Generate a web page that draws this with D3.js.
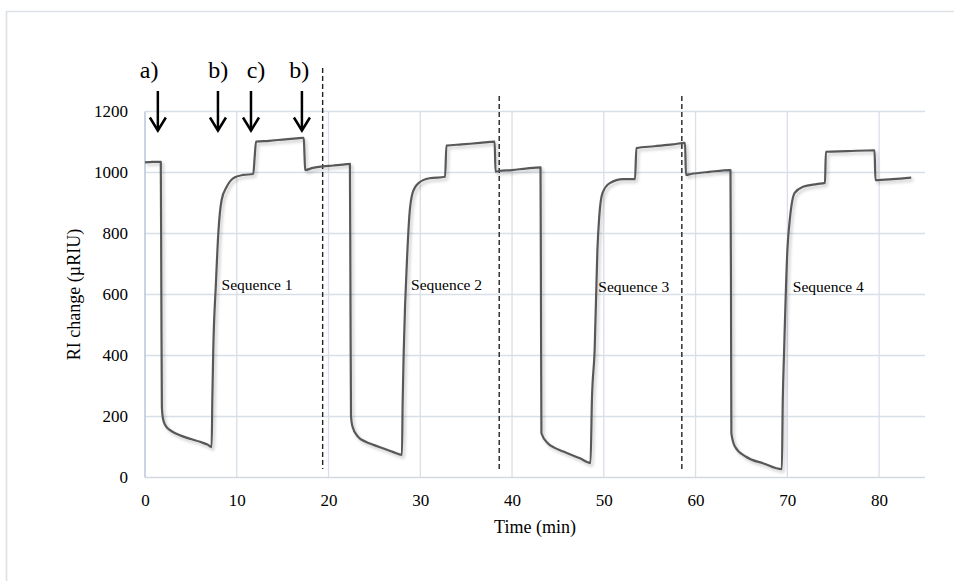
<!DOCTYPE html>
<html>
<head>
<meta charset="utf-8">
<script src="https://cdn.jsdelivr.net/npm/d3@7"></script>
<style>
  html, body { margin: 0; padding: 0; background: #fff; }
  svg { display: block; }
  text { font-family: "Liberation Serif", "Times New Roman", serif; fill: #000; }
</style>
</head>
<body>
<svg id="chart" width="954" height="581"></svg>
<script>
// RI response over four measurement sequences: [time (min), RI change (µRIU)]
const seq1 = [[0,1033],[0.8,1035],[1.72,1035],[1.78,620],[1.84,230],[1.95,195],[2.2,172],[2.7,156],[3.3,145],[4.2,134],[5.0,126],[6.0,117],[6.8,108],[7.26,100],[7.34,260],[7.44,418],[7.73,637],[7.99,801],[8.35,910],[8.9,953],[9.6,981],[10.7,992],[11.8,995],[11.95,1050],[12.1,1101],[13.5,1104],[15.0,1108],[16.5,1112],[17.3,1114],[17.38,1060],[17.45,1008],[18.3,1015],[19.36,1020]];
const seq2 = [[20.5,1023],[21.5,1026],[22.33,1028],[22.39,600],[22.45,200],[22.6,168],[23.2,134],[24.0,118],[24.9,107],[26.0,95],[27.0,84],[28.0,74],[28.08,250],[28.2,418],[28.6,746],[28.8,855],[29.15,932],[29.8,965],[31.0,981],[32.7,986],[32.85,1088],[34.5,1092],[36.5,1097],[38.1,1101],[38.2,1003],[38.6,1005]];
const seq3 = [[40,1008],[41.5,1013],[43.1,1017],[43.15,600],[43.2,145],[43.9,112],[44.6,98],[45.6,85],[47.4,63],[48.55,48],[48.7,250],[49.0,418],[49.3,746],[49.5,855],[49.85,932],[50.65,965],[52.1,978],[53.4,978],[53.55,1080],[55.5,1086],[57.5,1092],[58.85,1097],[58.95,992]];
const seq4 = [[59.5,995],[61.5,1002],[63.8,1008],[63.86,600],[63.9,145],[64.3,101],[65.5,68],[67.4,46],[69.4,27],[69.5,250],[69.65,418],[70.0,744],[70.3,855],[70.8,933],[71.7,953],[73.2,962],[74.1,966],[74.2,1068],[76.5,1070],[79.5,1073],[79.6,975],[81.5,978],[83.5,983]];

// axis ticks
const xTicks = [0, 10, 20, 30, 40, 50, 60, 70, 80];
const yTicks = [0, 200, 400, 600, 800, 1000, 1200];

// sequence boundaries (min)
const boundaryTimes = [19.36, 38.6, 58.5];

// injection events: arrow time, label, label time
const eventTimes  = [1.4, 7.95, 11.55, 17.1];
const eventLabels = ["a)", "b)", "c)", "b)"];
const eventLabelTimes = [0.45, 7.98, 12.1, 16.8];

// sequence captions: [time, RI level]
const seqNames = ["Sequence 1", "Sequence 2", "Sequence 3", "Sequence 4"];
const seqLabelAt = [[8.35, 625], [29.0, 625], [49.4, 620], [70.6, 620]];

const svg = d3.select("#chart");

const x = d3.scaleLinear().domain([0, 85]).range([145, 925]);
const y = d3.scaleLinear().domain([0, 1200]).range([477.5, 111.5]);

// outer frame (top and left edges)
svg.append("path")
  .attr("d", "M6.5,581 V11.5 H954")
  .attr("fill", "none").attr("stroke", "#dde1e6").attr("stroke-width", 1.6);

// soft shadow for the trace
const defs = svg.append("defs");
const f = defs.append("filter").attr("id", "shadow")
  .attr("x", "-5%").attr("y", "-5%").attr("width", "110%").attr("height", "110%");
f.append("feDropShadow").attr("dx", 2).attr("dy", 2.5).attr("stdDeviation", 1.4)
  .attr("flood-color", "#000").attr("flood-opacity", 0.22);

// gridlines
const grid = svg.append("g");
grid.selectAll("line.h").data(yTicks.filter(d => d > 0)).join("line")
  .attr("x1", x(0)).attr("x2", x(85))
  .attr("y1", d => y(d)).attr("y2", d => y(d))
  .attr("stroke", "#d9dfe8").attr("stroke-width", 1.3);
grid.selectAll("line.v").data(xTicks.filter(d => d > 0)).join("line")
  .attr("x1", d => x(d)).attr("x2", d => x(d))
  .attr("y1", y(0)).attr("y2", y(1200))
  .attr("stroke", "#d9dfe8").attr("stroke-width", 1.3);

// axis lines
svg.append("line").attr("x1", x(0)).attr("x2", x(85)).attr("y1", y(0)).attr("y2", y(0))
  .attr("stroke", "#d3d9e2").attr("stroke-width", 1.5);
svg.append("line").attr("x1", x(0)).attr("x2", x(0)).attr("y1", y(0)).attr("y2", y(1200))
  .attr("stroke", "#b9c6d8").attr("stroke-width", 1.5);

// tick labels via d3 axes
const xAxis = svg.append("g").attr("transform", `translate(0,${y(0)})`)
  .call(d3.axisBottom(x).tickValues(xTicks).tickFormat(d3.format("d")).tickSize(0).tickPadding(16));
const yAxis = svg.append("g").attr("transform", `translate(${x(0)},0)`)
  .call(d3.axisLeft(y).tickValues(yTicks).tickFormat(d3.format("d")).tickSize(0).tickPadding(17));
[xAxis, yAxis].forEach(a => {
  a.select(".domain").remove();
  a.selectAll("text").attr("font-size", 17).attr("font-family", "Liberation Serif").attr("fill", "#000");
});

// axis titles
svg.append("text").attr("x", 535).attr("y", 533).attr("text-anchor", "middle")
  .attr("font-size", 18).text("Time (min)");
svg.append("text").attr("transform", `translate(80,${(y(0) + y(1200)) / 2}) rotate(-90)`)
  .attr("text-anchor", "middle").attr("font-size", 18).text("RI change (µRIU)");

// sequence boundaries
svg.selectAll("line.bound").data(boundaryTimes).join("line")
  .attr("x1", d => x(d)).attr("x2", d => x(d))
  .attr("y1", (d, i) => i === 0 ? 68 : 96).attr("y2", 469)
  .attr("stroke", "#222").attr("stroke-width", 1.4).attr("stroke-dasharray", "5,3");

// RI trace
const line = d3.line().x(d => x(d[0])).y(d => y(d[1])).curve(d3.curveMonotoneX);
svg.append("path")
  .datum([...seq1, ...seq2, ...seq3, ...seq4])
  .attr("d", line)
  .attr("fill", "none").attr("stroke", "#595959").attr("stroke-width", 2.2)
  .attr("stroke-linejoin", "round")
  .attr("filter", "url(#shadow)");

// sequence captions
svg.selectAll("text.seq").data(seqNames).join("text")
  .attr("x", (d, i) => x(seqLabelAt[i][0]))
  .attr("y", (d, i) => y(seqLabelAt[i][1]))
  .attr("dominant-baseline", "middle")
  .attr("font-size", 15.5).text(d => d);

// event arrows and labels
const plotTop = y(1200);
const arrows = svg.append("g").attr("stroke", "#000").attr("stroke-width", 2.5).attr("fill", "none");
eventTimes.forEach(t => {
  const cx = x(t), y0 = plotTop - 20.5, y1 = plotTop + 19;
  arrows.append("path").attr("d", `M${cx},${y0} V${y1}`);
  arrows.append("path").attr("d", `M${cx - 8},${y1 - 13} L${cx},${y1} L${cx + 8},${y1 - 13}`)
    .attr("stroke-linejoin", "miter");
});
svg.selectAll("text.ev").data(eventLabels).join("text")
  .attr("x", (d, i) => x(eventLabelTimes[i]))
  .attr("y", 78).attr("text-anchor", "middle")
  .attr("font-size", 24).text(d => d);
</script>
</body>
</html>
